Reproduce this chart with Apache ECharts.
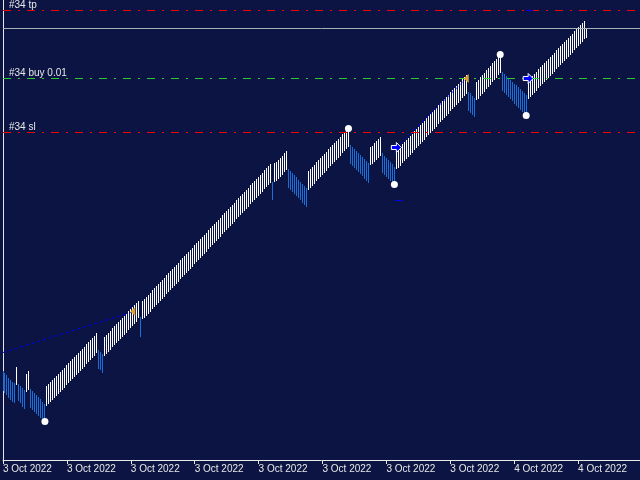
<!DOCTYPE html>
<html><head><meta charset="utf-8">
<script src="https://cdn.jsdelivr.net/npm/echarts@6/dist/echarts.min.js"></script>
<style>html,body{margin:0;padding:0;background:#0b1442}#c{width:640px;height:480px}</style>
</head><body><div id="c"></div>
<script>
// Bar highs / lows (price units), one entry per bar, left to right
const barHigh = [
  89,87,85,82,80,78,77, 93, 76,74,72,70, 86,89, 71,69,67,65,63,61,58,56,
  74,76,78,80,82,84,86,88,90,92,95,97,99,101,103,105,107,109,111,113,116,118,120,122,124,127,
  110,108,106,
  123,125,127,129,132,134,136,138,140,142,144,146,149,151,153,155,157,159,
  143,
  159,
  161,163,165,167,170,172,174,176,178,180,182,185,187,189,191,193,195,197,200,202,
  204,206,208,210,212,215,217,219,221,223,225,227,230,232,234,236,238,240,242,245,
  247,249,251,253,255,257,260,262,264,266,268,270,272,275,277,279,281,283,285,287,
  290,292,294,296,
  278,
  297,298,300,302,304,307,309,
  291,289,287,285,283,280,278,276,274,272,
  289,291,293,295,298,300,302,304,306,308,311,313,315,317,319,321,323,326,328,330,332,
  315,313,311,309,307,305,303,301,299,297,
  313,314,317,319,321,323,
  307,304,302,300,298,296,293,
  309,311,313,316,318,320,322,324,326,329,331,333,335,337,339,342,344,346,348,350,
  352,355,357,359,361,363,365,368,370,372,374,376,378,381,383,385,
  368,367,364,362,
  378,380,383,385,387,390,392,394,397,399,401,404,406,
  388,386,384,382,380,378,376,375,373,371,369,367,365,
  380,382,384,386,388,391,393,395,397,399,401,403,405,407,410,412,414,416,418,420,
  422,424,426,429,431,433,435,437,439,
  432
];
const barLow = [
  70,68,66,63,61,59,58, 76, 60,58,54,52, 69,71, 53,51,49,47,45,43,41,39,
  55,57,59,61,63,65,67,69,71,73,76,78,80,82,84,86,88,90,92,94,97,99,101,103,105,108,
  92,91,88,
  105,107,109,111,114,116,118,120,122,124,126,128,131,133,135,137,139,143,
  124,
  142,
  143,145,147,149,152,154,156,158,160,162,164,167,169,171,173,175,177,179,182,184,
  186,188,190,192,194,197,199,201,203,205,207,209,212,214,216,218,220,222,224,227,
  229,231,233,235,237,239,242,244,246,248,250,252,254,257,259,261,263,265,267,269,
  272,274,276,278,
  261,
  279,280,282,284,286,289,291,
  273,271,269,267,265,263,261,258,256,254,
  271,273,275,277,280,282,284,286,288,290,293,295,297,299,301,303,305,308,310,312,314,
  297,295,293,291,289,287,285,282,280,278,
  296,297,299,301,303,305,
  288,286,284,282,280,278,276,
  292,293,295,298,300,302,304,306,308,311,313,315,317,319,321,324,326,328,330,332,
  334,337,339,341,343,345,347,350,352,354,356,358,360,363,365,367,
  350,348,346,344,
  361,362,365,367,369,372,374,376,379,381,383,386,388,
  370,368,366,364,362,360,357,355,353,351,349,347,345,
  362,364,366,368,370,373,375,377,379,381,383,385,387,389,392,394,396,398,400,402,
  404,406,408,411,413,415,417,419,422,
  423
];
// bar direction runs: [u = up (white), d = down (blue), count]
const dirRuns = [['d',7],['u',1],['d',4],['u',2],['d',8],['u',26],['d',3],['u',18],['d',1],
  ['u',65],['d',1],['u',7],['d',10],['u',21],['d',10],['u',6],['d',7],['u',36],['d',4],
  ['u',13],['d',13],['u',30]];
const tickLabels = ['3 Oct 2022','3 Oct 2022','3 Oct 2022','3 Oct 2022','3 Oct 2022',
  '3 Oct 2022','3 Oct 2022','3 Oct 2022','4 Oct 2022','4 Oct 2022'];
const levelNames = ['#34 tp', '#34 buy 0.01', '#34 sl'];
const levelValues = [450, 382, 328];
const bidPrice = 432;
const swingPoints = [[21,39],[173,332],[196,276],[249,406],[262,345]];
const buyArrows = [[197,313],[263,382]];
const closeArrows = [[65,149],[232,382]];
const tradeLine1 = [[0,108],[64,148]];
const tradeLine2 = [[197,313],[232,382]];
const orderMark1 = [[196.5,260],[200,260]];
const orderMark2 = [[262,450],[265.5,450]];

const barUp = [];
dirRuns.forEach(([d, n]) => { for (let k = 0; k < n; k++) barUp.push(d === 'u' ? 1 : 0); });
const bars = barHigh.map((h, i) => [i, h, barLow[i], barUp[i]]);

const BG = '#0b1442', FG = '#e8e8e8', BLUE_BAR = '#1a6fd8';
const chart = echarts.init(document.getElementById('c'));
const levelColors = ['#ff0000', '#2ecc2e', '#ff0000'];
const markData = levelValues.map((v, k) => ({
  yAxis: v, lineStyle: {color: levelColors[k], type: [8,7,2,7], width: 1},
  label: {formatter: levelNames[k]}
}));
markData.push({yAxis: bidPrice, lineStyle: {color: '#a9b1b9', type: 'solid', width: 1}, label: {show: false}});

const lineSeries = (data, z, width, type) => ({
  type: 'line', data: data, symbol: 'none', z: z, silent: true, animation: false,
  lineStyle: {color: '#0000ff', width: width, type: type}
});

chart.setOption({
  backgroundColor: BG,
  animation: false,
  grid: {left: 2, right: 0, top: 0, bottom: 20},
  xAxis: {
    type: 'value', min: 0, max: 319, interval: 32,
    axisLine: {show: true, onZero: false, lineStyle: {color: FG, width: 1}},
    axisTick: {show: true, length: 4, lineStyle: {color: FG}},
    axisLabel: {show: true, align: 'left', margin: 4, color: FG, fontSize: 10,
      fontFamily: 'Liberation Sans', showMaxLabel: false,
      formatter: v => tickLabels[Math.round(v / 32)] || ''},
    splitLine: {show: false}
  },
  yAxis: {
    type: 'value', min: 0.5, max: 460.5, offset: 1,
    axisLine: {show: true, lineStyle: {color: FG}},
    axisTick: {show: false}, axisLabel: {show: false}, splitLine: {show: false}
  },
  series: [
    {
      type: 'custom', z: 3, clip: true, data: bars,
      encode: {x: 0, y: [1, 2]},
      renderItem: (params, api) => {
        const i = api.value(0);
        const top = api.coord([i, api.value(1)]);
        const bot = api.coord([i, api.value(2)]);
        const x = Math.floor(top[0]);
        const y0 = Math.floor(top[1]), y1 = Math.floor(bot[1]);
        return {type: 'rect', shape: {x: x, y: y0, width: 1, height: y1 - y0 + 1},
          style: {fill: api.value(3) ? '#ffffff' : BLUE_BAR}};
      }
    },
    lineSeries(tradeLine1, 4, 1, [3,3]),
    lineSeries(tradeLine2, 4, 1, [3,3]),
    {
      type: 'line', data: [], z: 5, silent: true,
      markLine: {
        symbol: ['none', 'none'], silent: true, animation: false,
        label: {show: true, position: 'insideStartTop', color: FG, fontSize: 10,
          fontFamily: 'Liberation Sans', distance: [6, 0]},
        data: markData
      }
    },
    lineSeries(orderMark1, 6, 1, 'solid'),
    lineSeries(orderMark2, 6, 1, 'solid'),
    {
      type: 'scatter', data: swingPoints, z: 7, symbol: 'circle', symbolSize: 7,
      itemStyle: {color: '#ffffff', opacity: 1}, silent: true
    },
    {
      type: 'scatter', data: buyArrows, z: 8, symbolSize: [10, 10],
      symbol: 'path://M0,3L5,3L5,0L10,5L5,10L5,7L0,7Z',
      itemStyle: {color: '#0000ff', borderColor: '#ffffff', borderWidth: 1, opacity: 1}, silent: true
    },
    {
      type: 'scatter', data: closeArrows, z: 8, symbol: 'triangle', symbolSize: [9, 5],
      symbolRotate: 90,
      itemStyle: {color: '#e0a030', opacity: 1}, silent: true
    }
  ]
});
</script>
</body></html>
